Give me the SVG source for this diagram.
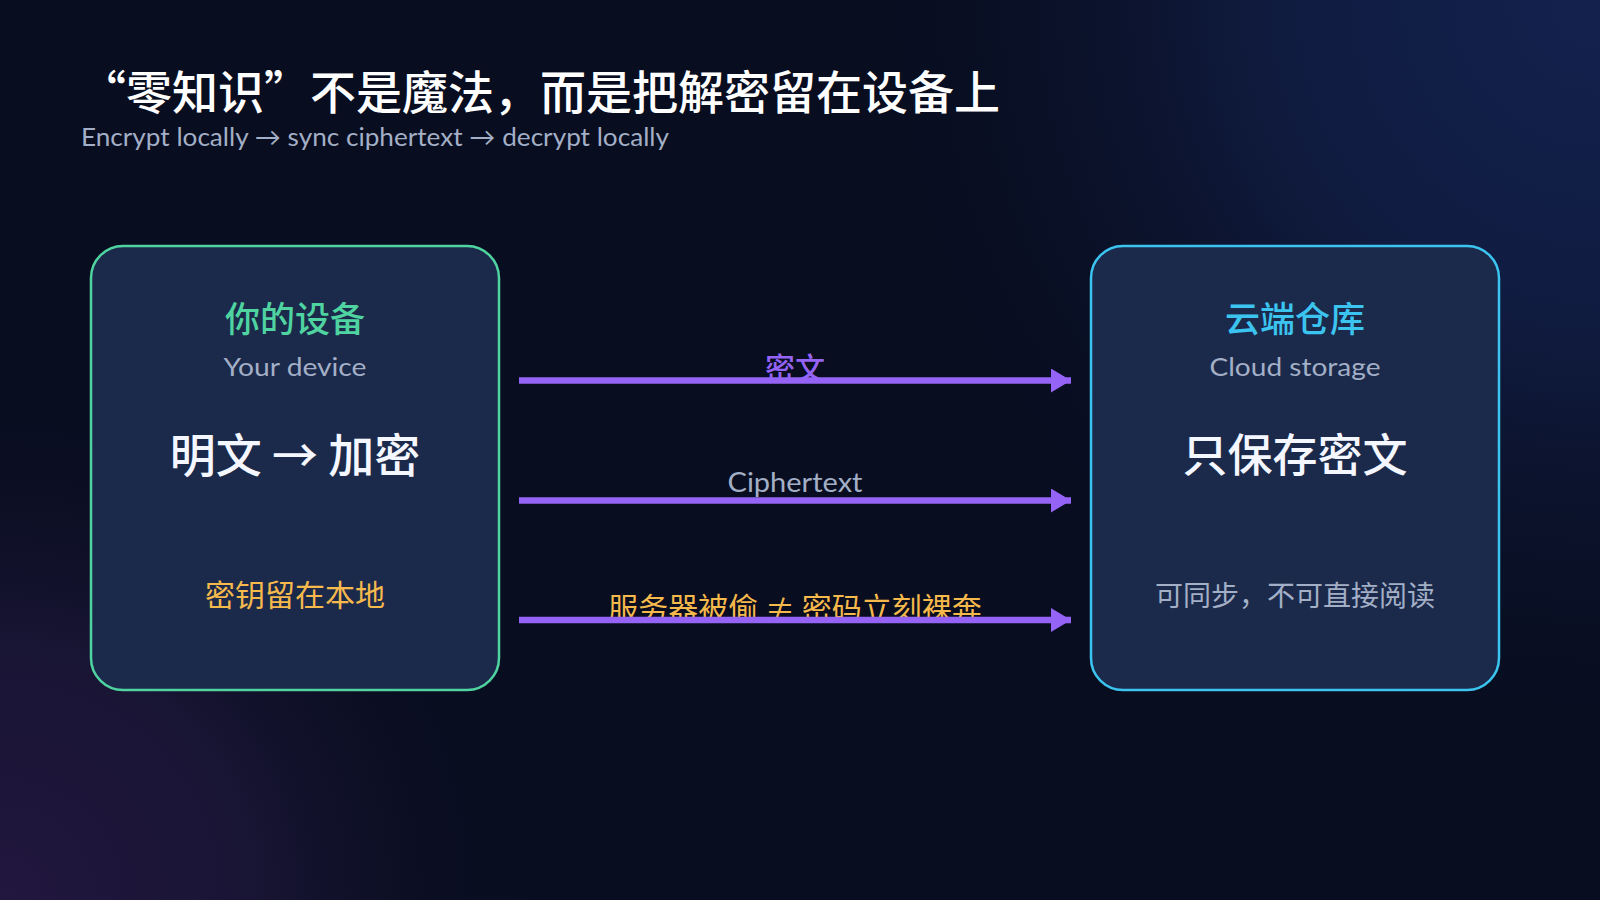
<svg xmlns="http://www.w3.org/2000/svg" width="1600" height="900" viewBox="0 0 1600 900">
  <defs>
    <radialGradient id="glowTR" cx="1600" cy="0" r="800" gradientUnits="userSpaceOnUse">
      <stop offset="0" stop-color="#13214d"/>
      <stop offset="0.4" stop-color="#111d44" stop-opacity="0.9"/>
      <stop offset="1" stop-color="#080d1f" stop-opacity="0"/>
    </radialGradient>
    <radialGradient id="glowBL" cx="0" cy="900" r="560" gradientUnits="userSpaceOnUse">
      <stop offset="0" stop-color="#22173f"/>
      <stop offset="0.45" stop-color="#1c1638" stop-opacity="0.85"/>
      <stop offset="1" stop-color="#080d1f" stop-opacity="0"/>
    </radialGradient>
    <marker id="arrowHead" viewBox="0 0 20 24" refX="20" refY="12" markerWidth="20" markerHeight="24" markerUnits="userSpaceOnUse" orient="auto">
      <path d="M0,0 L20,12 L0,24 Z" fill="#9563f5"/>
    </marker>
    <style>
      .cjk { font-family: "Noto Sans CJK SC", "Noto Sans", sans-serif; }
      .lat { font-family: Lato, "Noto Sans", "Liberation Sans", sans-serif; }
      .box { fill: #1b2a4b; stroke-width: 2.5; }
      .conn { stroke: #9563f5; stroke-width: 6.5; fill: none; marker-end: url(#arrowHead); }
      .mid { text-anchor: middle; }
    </style>
  </defs>

  <rect x="0" y="0" width="1600" height="900" fill="#080d1f"/>
  <rect x="0" y="0" width="1600" height="900" fill="url(#glowTR)"/>
  <rect x="0" y="0" width="1600" height="900" fill="url(#glowBL)"/>

  <g id="title">
    <text class="cjk" x="80" y="109" font-size="46" font-weight="500" fill="#ffffff">“零知识”不是魔法，而是把解密留在设备上</text>
    <text class="lat" x="81" y="146" font-size="25" fill="#a3afc6" textLength="588" lengthAdjust="spacingAndGlyphs">Encrypt locally → sync ciphertext → decrypt locally</text>
  </g>

  <g id="node-device">
    <rect class="box" x="91" y="246" width="408" height="444" rx="32" ry="32" stroke="#4fd3a0"/>
    <text class="cjk mid" x="295" y="332" font-size="35" font-weight="500" fill="#4fd3a0">你的设备</text>
    <text class="lat mid" x="295" y="376" font-size="25" fill="#a3afc6" textLength="143" lengthAdjust="spacingAndGlyphs">Your device</text>
    <text class="cjk mid" x="295" y="472" font-size="46" font-weight="500" fill="#f4f7ff">明文 → 加密</text>
    <text class="cjk mid" x="295" y="606" font-size="30" fill="#f6b94c">密钥留在本地</text>
  </g>

  <g id="node-cloud">
    <rect class="box" x="1091" y="246" width="408" height="444" rx="32" ry="32" stroke="#3cc4f0"/>
    <text class="cjk mid" x="1295" y="332" font-size="35" font-weight="500" fill="#3cc4f0">云端仓库</text>
    <text class="lat mid" x="1295" y="376" font-size="25" fill="#a3afc6" textLength="171" lengthAdjust="spacingAndGlyphs">Cloud storage</text>
    <text class="cjk mid" x="1295" y="472" font-size="45" font-weight="500" fill="#f4f7ff">只保存密文</text>
    <text class="cjk mid" x="1295" y="606" font-size="28" fill="#a3afc6">可同步，不可直接阅读</text>
  </g>

  <g id="labels">
    <text class="cjk mid" x="795" y="379" font-size="30" font-weight="500" fill="#9563f5">密文</text>
    <text class="lat mid" x="795" y="492" font-size="26" fill="#a3afc6" textLength="135" lengthAdjust="spacingAndGlyphs">Ciphertext</text>
    <text class="cjk mid" x="795" y="619" font-size="30" fill="#f6b94c">服务器被偷 ≠ 密码立刻裸奔</text>
  </g>

  <g id="connectors">
    <line class="conn" x1="519" y1="380.5" x2="1071" y2="380.5"/>
    <line class="conn" x1="519" y1="500.5" x2="1071" y2="500.5"/>
    <line class="conn" x1="519" y1="620" x2="1071" y2="620"/>
  </g>
</svg>
